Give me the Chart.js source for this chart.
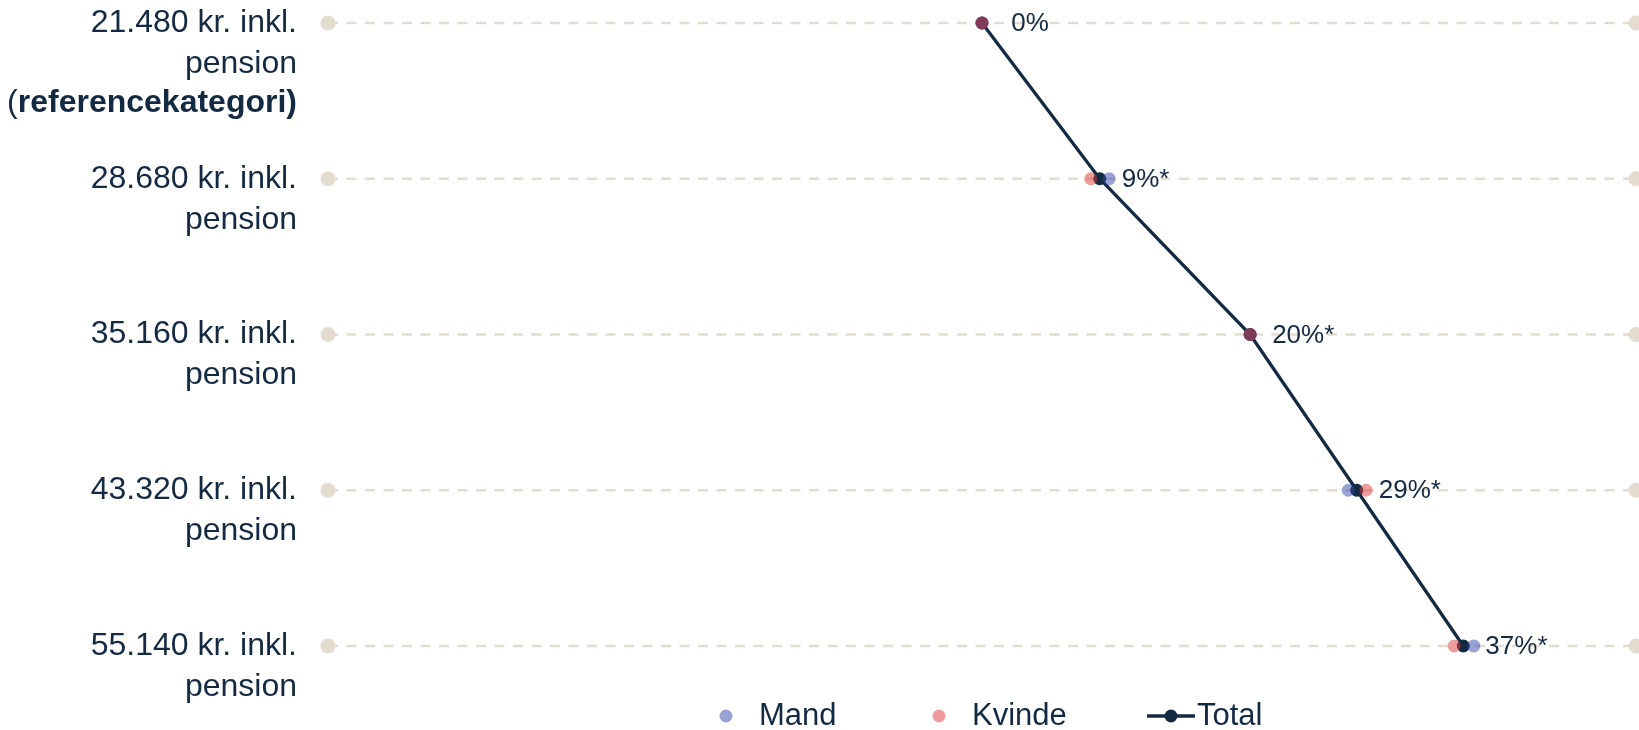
<!DOCTYPE html>
<html>
<head>
<meta charset="utf-8">
<script src="https://cdn.jsdelivr.net/npm/chart.js@4.4.1/dist/chart.umd.min.js"></script>
<style>
html,body{margin:0;padding:0;background:#ffffff;}
#wrap{width:1639px;height:730px;position:relative;}
</style>
</head>
<body>
<div id="wrap"><canvas id="c"></canvas></div>
<script>
// ---- data ----
const categories = [
  '21.480 kr. inkl. pension (referencekategori)',
  '28.680 kr. inkl. pension',
  '35.160 kr. inkl. pension',
  '43.320 kr. inkl. pension',
  '55.140 kr. inkl. pension'
];
// label lines; each line is a list of [text, bold] segments
const categoryLines = [
  [[['21.480 kr. inkl.', false]], [['pension', false]], [['(', false], ['referencekategori)', true]]],
  [[['28.680 kr. inkl.', false]], [['pension', false]]],
  [[['35.160 kr. inkl.', false]], [['pension', false]]],
  [[['43.320 kr. inkl.', false]], [['pension', false]]],
  [[['55.140 kr. inkl.', false]], [['pension', false]]]
];
const totalValues  = [0, 9.0, 20.5, 28.65, 36.8];
const mandValues   = [0, 9.73, 20.5, 28.0, 37.6];
const kvindeValues = [0, 8.31, 20.5, 29.36, 36.1];
const valueLabels  = [' 0%', '9%*', '20%*', '29%*', '37%*'];
const seriesNames  = ['Mand', 'Kvinde', 'Total'];
const xRange = [-50, 50];

// ---- styles ----
const NAVY = '#142a42';
const MAND = 'rgba(50,70,170,0.5)';
const KVINDE = 'rgba(222,60,58,0.5)';
const GRID = '#e4ddcf';
const FONT = "'Liberation Sans', Arial, Helvetica, sans-serif";

const toPts = vals => categories.map((c, i) => ({x: vals[i], y: c}));

const guideSets = categories.map(c => ({
  label: '_guide',
  data: [{x: xRange[0], y: c}, {x: xRange[1], y: c}],
  borderColor: GRID,
  borderWidth: 2.5,
  borderDash: [10, 8.5],
  pointRadius: 7.5,
  pointBackgroundColor: GRID,
  pointBorderWidth: 0,
  showLine: true,
  clip: false
}));

const datasets = [
  {label: seriesNames[1], data: toPts(kvindeValues), showLine: false,
   pointRadius: 6.5, pointBackgroundColor: KVINDE, pointBorderWidth: 0, clip: false},
  {label: seriesNames[0], data: toPts(mandValues), showLine: false,
   pointRadius: 6.5, pointBackgroundColor: MAND, pointBorderWidth: 0, clip: false},
  {label: seriesNames[2], data: toPts(totalValues), showLine: true,
   borderColor: NAVY, borderWidth: 3.3, pointRadius: 6.5,
   pointBackgroundColor: NAVY, pointBorderWidth: 0, clip: false},
  ...guideSets
];

const overlay = {
  id: 'overlay',
  afterDraw(chart) {
    const ctx = chart.ctx;
    const ys = chart.scales.y, xs = chart.scales.x;
    const area = chart.chartArea;
    ctx.save();
    ctx.fillStyle = NAVY;
    ctx.textBaseline = 'middle';
    // y labels
    const right = area.left - 31;
    const lineH = 39.5;
    const fs = 32;
    categoryLines.forEach((lines, i) => {
      const y0 = ys.getPixelForValue(i);
      lines.forEach((segs, li) => {
        let w = 0;
        const widths = segs.map(([t, b]) => {
          ctx.font = (b ? 'bold ' : '') + fs + 'px ' + FONT;
          const m = ctx.measureText(t).width; w += m; return m;
        });
        let x = right - w;
        segs.forEach(([t, b], si) => {
          ctx.font = (b ? 'bold ' : '') + fs + 'px ' + FONT;
          ctx.textAlign = 'left';
          ctx.fillText(t, x, y0 + li * lineH + (li > 0 ? 1.5 : 0));
          x += widths[si];
        });
      });
    });
    // value labels
    ctx.font = '26px ' + FONT;
    ctx.textAlign = 'left';
    valueLabels.forEach((t, i) => {
      ctx.fillText(t, xs.getPixelForValue(totalValues[i]) + 22, ys.getPixelForValue(i) + 1);
    });
    // legend
    const ly = area.bottom + 70;
    const start = (area.left + area.right) / 2 - 262;
    ctx.font = '31px ' + FONT;
    // Mand
    ctx.fillStyle = MAND;
    ctx.beginPath(); ctx.arc(start + 6, ly, 6.5, 0, Math.PI * 2); ctx.fill();
    ctx.fillStyle = NAVY;
    ctx.fillText(seriesNames[0], start + 39, ly);
    // Kvinde
    ctx.fillStyle = KVINDE;
    ctx.beginPath(); ctx.arc(start + 219, ly, 6.5, 0, Math.PI * 2); ctx.fill();
    ctx.fillStyle = NAVY;
    ctx.fillText(seriesNames[1], start + 252, ly);
    // Total
    ctx.strokeStyle = NAVY; ctx.lineWidth = 3.3;
    ctx.beginPath(); ctx.moveTo(start + 427, ly); ctx.lineTo(start + 475, ly); ctx.stroke();
    ctx.beginPath(); ctx.arc(start + 451, ly, 6.5, 0, Math.PI * 2); ctx.fill();
    ctx.fillText(seriesNames[2], start + 477, ly);
    ctx.restore();
  }
};

new Chart(document.getElementById('c'), {
  type: 'line',
  data: {datasets},
  options: {
    indexAxis: 'y',
    responsive: true,
    maintainAspectRatio: false,
    animation: false,
    layout: {autoPadding: false, padding: {left: 328, right: 3, top: 23, bottom: 84}},
    scales: {
      x: {type: 'linear', min: xRange[0], max: xRange[1], display: false},
      y: {type: 'category', labels: categories, offset: false, display: false}
    },
    plugins: {legend: {display: false}, tooltip: {enabled: false}},
    elements: {line: {tension: 0}}
  },
  plugins: [overlay]
});
</script>
</body>
</html>
